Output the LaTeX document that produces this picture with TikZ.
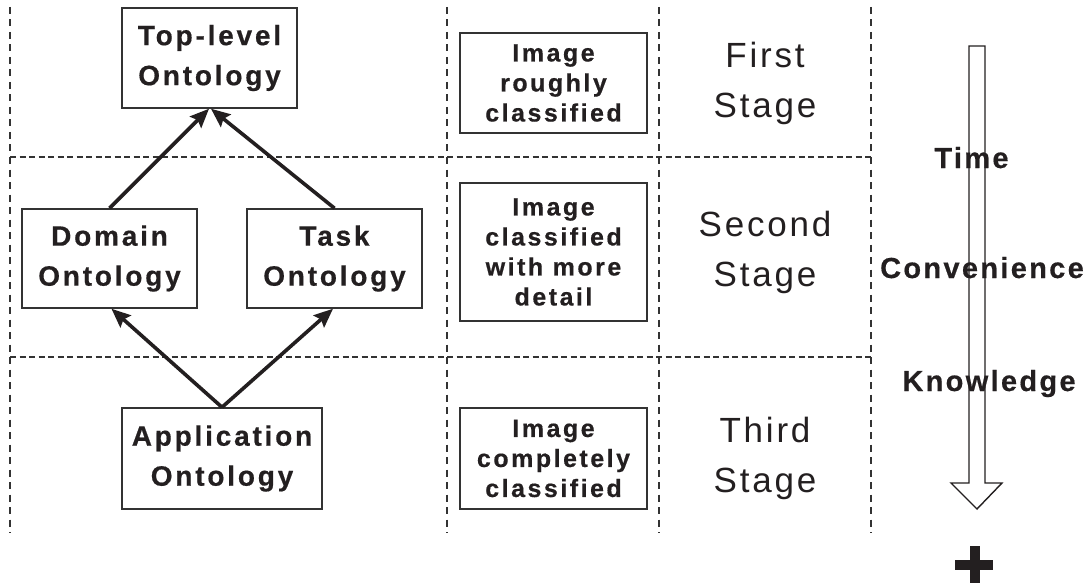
\documentclass[tikz,border=0pt]{standalone}
\usepackage{fontspec}
\setmainfont{Liberation Sans}
\newfontfamily\bxfont[LetterSpace=10,BoldFeatures={FakeBold=0.5}]{Liberation Sans}
\newfontfamily\stfont[LetterSpace=8]{Liberation Sans}
\newfontfamily\sdfont[LetterSpace=8,BoldFeatures={FakeBold=0.5}]{Liberation Sans}
\usetikzlibrary{arrows.meta}
\definecolor{ink}{HTML}{231F20}
\definecolor{edge}{HTML}{333333}
\begin{document}
\begin{tikzpicture}[x=1pt,y=-1pt,
  vgrid/.style={draw=edge,line width=2pt,dash pattern=on 7pt off 5.5pt},
  hgrid/.style={draw=edge,line width=2pt,dash pattern=on 6pt off 3.5pt},
  ontbox/.style={draw=edge,line width=1.5pt,minimum width=175pt,minimum height=100pt,
    align=center,inner sep=0pt,text=ink,font=\bxfont\bfseries\fontsize{28}{40}\selectfont},
  imgbox/.style={draw=edge,line width=1.5pt,minimum width=187pt,align=center,inner sep=0pt,
    text=ink,font=\bxfont\bfseries\fontsize{25}{30}\selectfont},
  stagetxt/.style={align=center,inner sep=0pt,text=ink,font=\stfont\fontsize{35}{50}\selectfont},
  sidelab/.style={anchor=base,inner sep=0pt,text=ink,font=\sdfont\bfseries\fontsize{29}{35}\selectfont},
  arr/.style={draw=ink,line width=3.6pt,-{Stealth[length=19pt,width=16pt,inset=3pt]}}]
\useasboundingbox (0,0) rectangle (1087,583);
% grid
\draw[vgrid] (10,7) -- (10,533);
\draw[vgrid] (447,7) -- (447,533);
\draw[vgrid] (659,7) -- (659,533);
\draw[vgrid] (871,7) -- (871,533);
\draw[hgrid] (10,157) -- (871,157);
\draw[hgrid] (10,357) -- (871,357);
% ontology boxes
\node[ontbox] (top) at (209.5,58) {Top-level\\Ontology};
\node[ontbox,minimum height=99pt] (dom) at (109.5,258.5) {Domain\\Ontology};
\node[ontbox,minimum height=99pt] (task) at (334.5,258.5) {Task\\Ontology};
\node[ontbox,minimum width=200pt,minimum height=101pt] (app) at (222,458.5) {Application\\Ontology};
\draw[arr] (dom.north) -- ([xshift=-0.5pt]top.south);
\draw[arr] (task.north) -- ([xshift=1.5pt]top.south);
\draw[arr] (app.north) -- ([xshift=2pt]dom.south);
\draw[arr] (app.north) -- ([xshift=-1.5pt]task.south);
% image boxes
\node[imgbox,minimum height=100pt] (img1) at (553.5,83) {Image\\roughly\\classified};
\node[imgbox,minimum height=138pt] (img2) at (553.5,252) {Image\\classified\\with more\\detail};
\node[imgbox,minimum height=101pt] (img3) at (553.5,458.5) {Image\\completely\\classified};
% stages
\node[stagetxt] (s1) at (765,83) {First\\Stage};
\node[stagetxt] (s2) at (765,252) {Second\\Stage};
\node[stagetxt] (s3) at (765,458.5) {Third\\Stage};
% big arrow
\draw[draw=ink,line width=1.4pt,fill=white,line join=miter]
  (969,46) -- (985,46) -- (985,483) -- (1002,483) -- (977,509) -- (951,483) -- (969,483) -- cycle;
\node[sidelab] (time) at (971.5,168) {Time};
\node[sidelab] (conv) at (982,278) {Convenience};
\node[sidelab] (know) at (989,391) {Knowledge};
% plus
\fill[ink] (955,560) rectangle (993,570);
\fill[ink] (970,546) rectangle (980,584);
\end{tikzpicture}
\end{document}
